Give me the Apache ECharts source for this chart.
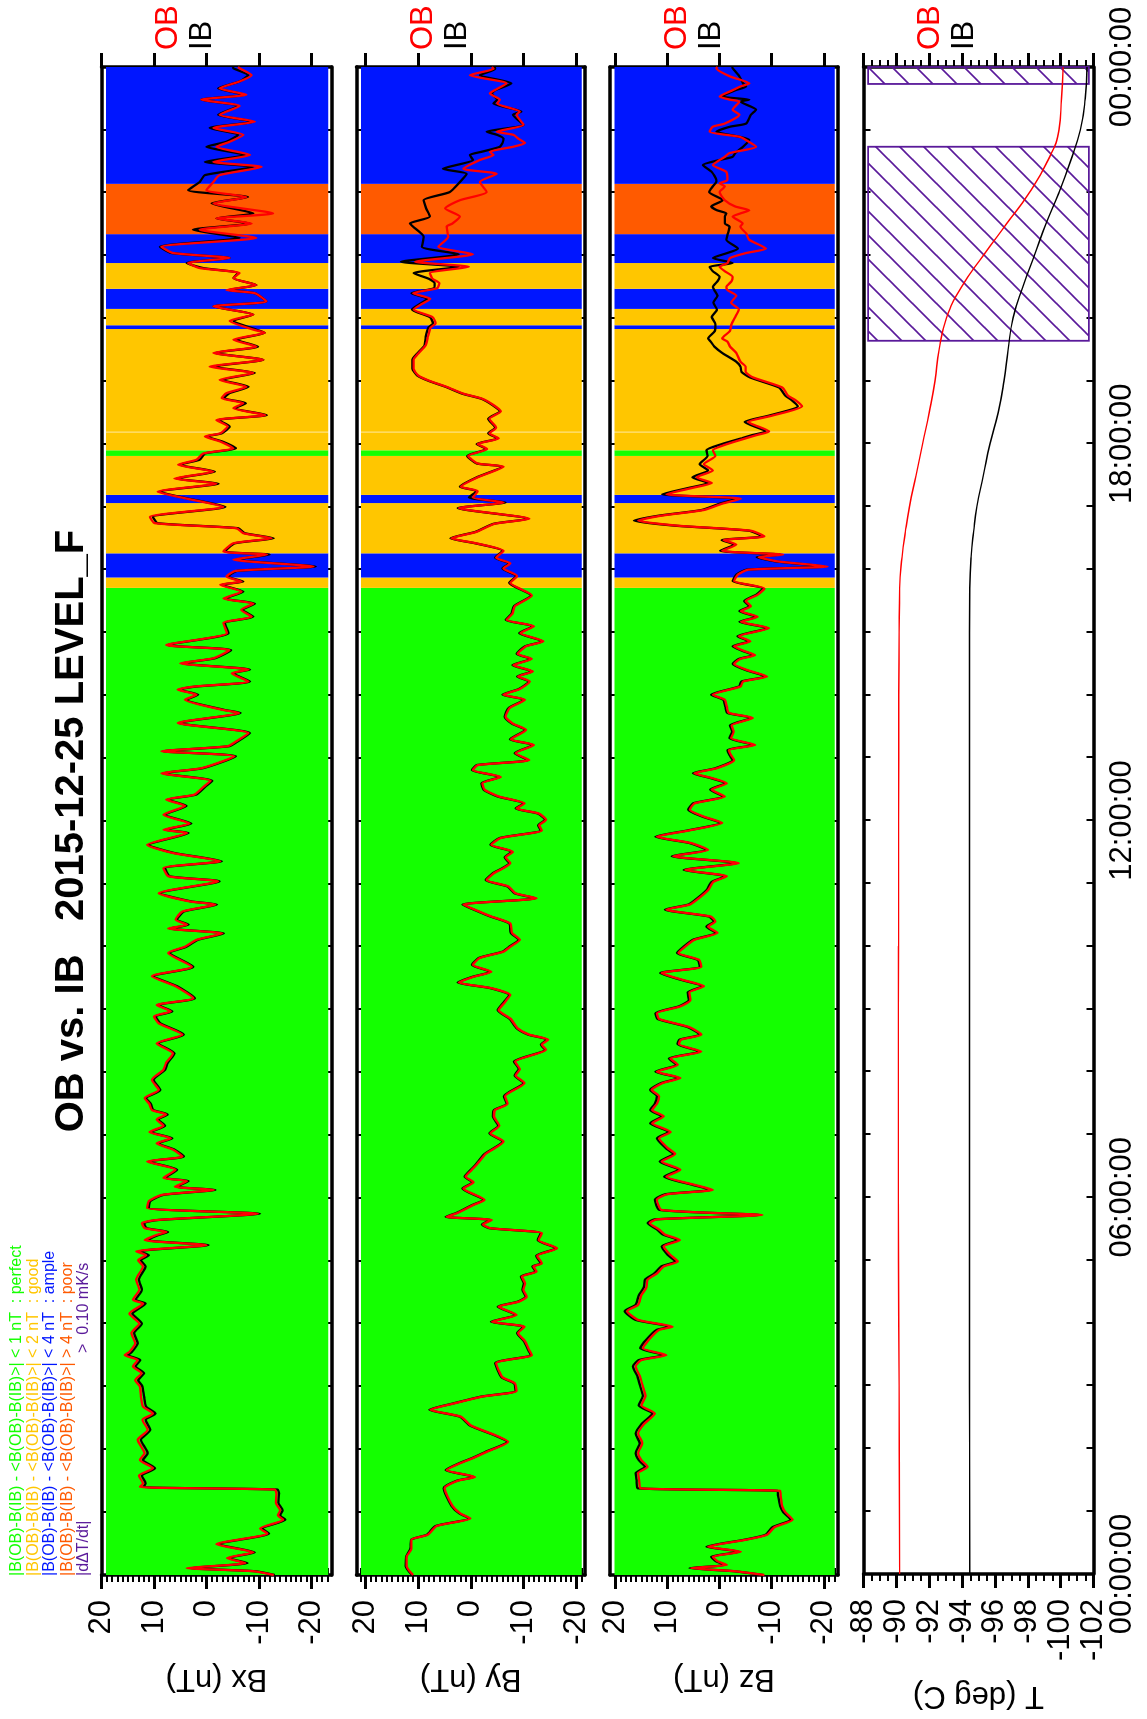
<!DOCTYPE html>
<html><head><meta charset="utf-8">
<script src="https://cdn.jsdelivr.net/npm/echarts@6/dist/echarts.min.js"></script>
<style>
html,body{margin:0;padding:0;background:#fff;}
#page{position:relative;width:1147px;height:1719px;overflow:hidden;background:#fff;}
#chart{position:absolute;left:0;top:0;width:1719px;height:1147px;transform-origin:0 0;transform:translateY(1719px) rotate(-90deg);}
</style></head><body>
<div id="page"><div id="chart"></div></div>
<script>
// ---------------- DATA ----------------
const titleText = 'OB vs. IB   2015-12-25 LEVEL_F';
const timeTickLabels = ['00:00:00','06:00:00','12:00:00','18:00:00','00:00:00'];
const bTickValues = [-20,-10,0,10,20];
const tTickStep = 2;   // T axis labels: -102 ... -88 every 2 deg C
const panelNames = ['Bx (nT)','By (nT)','Bz (nT)','T (deg C)'];
const legendLines = [
  '|B(OB)-B(IB) - <B(OB)-B(IB)>| < 1 nT  : perfect',
  '|B(OB)-B(IB) - <B(OB)-B(IB)>| < 2 nT  : good',
  '|B(OB)-B(IB) - <B(OB)-B(IB)>| < 4 nT  : ample',
  '|B(OB)-B(IB) - <B(OB)-B(IB)>| > 4 nT  : poor'
];
const legendLast = ['|d\u0394T/dt|', '>  0.10 mK/s'];

// quality bands (hours)
const bandStart = [0, 15.71, 15.875, 16.26, 17.06, 17.19, 17.81, 17.90, 18.195, 19.83, 19.89, 20.15, 20.47, 20.88, 21.34, 22.14];
const bandEnd   = [15.71, 15.875, 16.26, 17.06, 17.19, 17.81, 17.90, 18.185, 19.83, 19.89, 20.15, 20.47, 20.88, 21.34, 22.14, 24];
const bandQuality = ['perfect','good','ample','good','ample','good','perfect','good','good','ample','good','ample','good','ample','poor','ample'];
// |d dT/dt| > 0.10 mK/s periods (hours)
const hatchStart = [19.64, 23.73];
const hatchEnd   = [22.73, 24.0];

const bxT = [0.00,0.06,0.11,0.19,0.27,0.36,0.49,0.66,0.74,0.88,0.95,1.03,1.15,1.30,1.36,1.40,1.46,1.58,1.70,1.83,1.94,2.15,2.31,2.47,2.57,2.68,2.84,3.00,3.10,3.21,3.32,3.42,3.50,3.55,3.69,3.85,4.00,4.16,4.32,4.38,4.54,4.70,4.91,5.01,5.09,5.15,5.25,5.33,5.41,5.46,5.52,5.60,5.65,5.75,5.84,5.95,6.05,6.13,6.18,6.27,6.32,6.45,6.58,6.66,6.77,6.87,6.95,7.05,7.15,7.25,7.33,7.40,7.50,7.59,7.72,7.88,8.04,8.15,8.30,8.46,8.60,8.78,8.89,8.97,9.07,9.18,9.37,9.53,9.68,9.90,10.00,10.11,10.21,10.29,10.35,10.43,10.56,10.67,10.72,10.85,11.04,11.12,11.25,11.36,11.49,11.62,11.81,11.86,11.96,12.10,12.24,12.34,12.42,12.55,12.64,12.76,12.84,13.03,13.11,13.19,13.27,13.40,13.56,13.72,13.77,13.93,14.01,14.09,14.14,14.22,14.35,14.41,14.51,14.59,14.72,14.80,14.99,15.15,15.25,15.36,15.46,15.54,15.65,15.76,15.81,15.89,15.98,16.05,16.16,16.24,16.29,16.42,16.50,16.58,16.66,16.74,16.84,17.00,17.14,17.24,17.37,17.45,17.56,17.67,17.75,17.85,17.93,18.04,18.12,18.17,18.28,18.38,18.46,18.57,18.65,18.73,18.81,18.91,19.02,19.13,19.23,19.34,19.45,19.55,19.66,19.77,19.82,19.96,20.06,20.19,20.27,20.40,20.45,20.53,20.64,20.72,20.80,20.88,20.96,21.04,21.14,21.28,21.41,21.51,21.59,21.67,21.83,21.93,22.04,22.17,22.28,22.41,22.49,22.60,22.73,22.81,22.92,23.03,23.13,23.24,23.38,23.48,23.56,23.66,23.77,23.87,23.98,24.00];
const bxOB = [-12.8,-9.0,3.8,-7.4,-3.9,-8.9,-1.9,-11.6,-10.2,-14.6,-13.6,-14.0,-13.2,-13.3,-13.0,12.7,12.1,12.9,10.2,12.7,11.8,13.1,11.2,12.2,10.2,12.1,12.5,12.7,13.6,12.4,14.0,13.1,15.6,14.7,13.6,14.3,12.8,14.7,12.1,14.0,12.8,13.4,12.1,13.0,11.5,13.4,0.0,11.8,9.6,7.6,11.8,12.3,9.5,-9.8,11.3,11.0,8.5,-1.4,6.0,3.7,8.2,5.9,11.3,4.6,6.4,9.5,6.8,10.9,8.2,9.5,7.7,10.4,10.9,11.8,9.1,10.4,8.2,7.7,6.4,9.5,4.6,9.1,10.0,6.8,9.5,2.5,5.9,10.4,2.8,7.3,4.1,1.9,-3.0,7.3,3.7,5.9,4.6,-1.7,3.2,9.1,-2.2,7.3,8.2,-2.6,6.4,11.3,3.7,8.2,3.2,8.2,4.1,7.7,2.3,0.5,-0.8,8.6,1.0,-5.3,8.6,-4.0,-5.7,-8.0,5.5,-6.2,-3.0,4.1,1.9,5.5,2.3,-8.0,-4.8,-8.0,5.0,-1.3,-4.4,7.7,-3.9,-3.2,-8.6,-6.6,-8.9,-3.2,-6.7,-2.6,-6.7,-3.8,-5.5,-20.4,-5.1,-11.5,-3.2,-5.1,-12.4,-7.0,-5.7,9.9,10.8,-3.2,4.3,9.3,-1.9,6.1,-1.3,5.4,1.9,0.6,-5.1,-2.6,0.3,-2.6,-4.0,-1.9,-11.2,-5.1,-7.0,-2.9,-3.8,-7.6,-2.5,-8.9,-0.6,-10.8,-1.3,-9.5,-5.1,-11.1,-8.9,-4.4,-8.9,-1.3,-11.4,-9.2,-3.8,-9.5,-5.1,-6.3,1.3,3.5,-4.4,6.4,8.6,-9.5,1.3,-8.6,-1.9,-12.7,-1.3,-7.6,0.0,-1.3,-2.5,-10.5,-1.3,-8.3,-1.9,-4.4,-7.0,-1.3,-9.2,-2.5,-6.3,1.0,-7.6,-2.5,-6.3,-8.6,-6.3,-6.0];
const bxIB = [-13.0,-9.3,3.2,-7.8,-4.2,-9.2,-2.3,-11.9,-10.6,-15.0,-14.0,-14.5,-13.7,-13.8,-13.5,12.0,11.6,12.3,9.8,12.1,11.2,12.5,10.7,11.6,9.7,11.5,11.9,12.2,13.0,11.9,13.5,12.6,15.0,14.2,13.1,13.8,12.3,14.1,11.6,13.5,12.3,12.9,11.6,12.5,11.0,12.9,-0.4,11.3,9.2,7.3,11.4,11.9,9.2,-10.2,11.0,10.7,8.2,-1.7,5.7,3.4,7.9,5.6,11.0,4.3,6.1,9.2,6.5,10.6,7.9,9.2,7.4,10.1,10.6,11.5,8.8,10.1,7.9,7.4,6.1,9.2,4.3,8.8,9.7,6.5,9.2,2.2,5.6,10.1,2.5,7.0,3.8,1.6,-3.3,7.0,3.4,5.6,4.3,-2.0,2.9,8.8,-2.5,7.0,7.9,-2.9,6.1,11.0,3.4,7.9,2.9,7.9,3.8,7.4,2.0,0.2,-1.1,8.3,0.7,-5.6,8.3,-4.3,-6.0,-8.3,5.2,-6.5,-3.3,3.8,1.6,5.2,2.0,-8.3,-5.1,-8.3,4.7,-1.6,-4.7,7.4,-4.2,-3.5,-8.9,-6.9,-9.2,-3.5,-7.0,-2.9,-7.0,-4.1,-5.8,-20.8,-5.5,-12.0,-3.5,-5.4,-12.8,-7.3,-6.0,9.3,10.2,-3.6,4.0,8.9,-2.3,5.8,-1.6,5.1,1.3,0.3,-5.6,-3.0,0.0,-2.9,-4.4,-2.2,-11.5,-5.4,-7.5,-3.3,-4.4,-8.0,-3.0,-9.2,-1.3,-10.8,-1.6,-9.8,-5.7,-11.1,-9.5,-5.1,-8.9,-1.3,-11.4,-9.2,-4.1,-9.5,-5.1,-6.0,0.6,3.8,-4.4,6.7,8.9,-6.3,2.6,-8.3,-1.9,-8.9,-1.0,-7.9,3.5,1.3,0.3,-8.9,0.3,-7.3,0.0,-3.8,-6.0,-0.6,-8.9,-2.2,-6.0,1.0,-7.3,-2.2,-6.3,-7.9,-5.1,-5.0];

const byT = [0.00,0.14,0.29,0.42,0.56,0.64,0.78,0.90,0.98,1.10,1.38,1.50,1.56,1.67,1.78,1.86,1.96,2.12,2.22,2.38,2.52,2.63,2.73,2.84,2.93,3.05,3.15,3.37,3.50,3.58,3.72,3.85,3.95,4.03,4.14,4.27,4.35,4.43,4.54,4.64,4.75,4.83,4.91,4.96,5.08,5.20,5.33,5.44,5.52,5.58,5.65,5.70,5.76,5.89,5.97,6.15,6.25,6.34,6.45,6.55,6.70,6.90,7.03,7.15,7.30,7.40,7.50,7.62,7.83,7.95,8.05,8.17,8.36,8.44,8.52,8.60,8.70,8.85,8.99,9.12,9.23,9.34,9.43,9.52,9.60,9.71,9.82,9.92,10.00,10.11,10.22,10.37,10.48,10.57,10.67,10.77,10.85,10.96,11.06,11.17,11.25,11.33,11.42,11.51,11.62,11.73,11.85,11.93,12.02,12.12,12.20,12.28,12.39,12.50,12.60,12.70,12.81,12.89,12.97,13.08,13.21,13.30,13.45,13.55,13.66,13.80,13.93,14.01,14.10,14.22,14.30,14.38,14.48,14.58,14.66,14.78,14.86,14.99,15.10,15.20,15.30,15.42,15.59,15.79,15.90,16.02,16.10,16.19,16.30,16.42,16.50,16.60,16.73,16.81,16.98,17.07,17.15,17.25,17.32,17.47,17.64,17.69,17.81,17.92,18.00,18.09,18.17,18.26,18.40,18.52,18.62,18.72,18.80,18.91,19.00,19.09,19.20,19.34,19.45,19.57,19.70,19.85,19.92,20.02,20.14,20.22,20.31,20.40,20.48,20.56,20.63,20.72,20.82,20.90,21.02,21.14,21.30,21.46,21.51,21.62,21.75,21.88,22.01,22.17,22.30,22.38,22.52,22.60,22.65,22.73,22.79,22.86,22.92,22.97,23.08,23.24,23.29,23.42,23.48,23.58,23.63,23.74,23.87,23.97,24.00];
const byOB = [11.0,12.2,12.2,11.3,11.3,8.2,6.5,0.1,2.0,3.5,5.0,2.5,-0.8,4.6,2.0,-0.4,-3.0,-7.1,-4.8,0.0,1.9,7.7,3.2,-2.2,-8.7,-8.4,-6.0,-4.8,-11.6,-11.1,-10.3,-9.0,-10.2,-4.0,-8.7,-5.3,-9.1,-10.6,-10.0,-10.3,-9.7,-12.5,-11.9,-13.5,-12.6,-16.4,-12.9,-13.5,-3.7,-2.3,-4.0,4.6,2.6,-0.5,-2.6,1.4,-0.5,1.0,-0.2,-1.3,-2.8,-6.2,-3.7,-5.4,-4.4,-4.6,-7.0,-6.5,-10.2,-8.5,-9.3,-8.4,-14.3,-13.5,-14.7,-11.1,-8.9,-7.6,-5.3,-6.5,-7.5,-3.9,2.3,-0.5,-3.9,-0.4,-1.7,-6.2,-7.5,-9.3,-7.8,-7.5,-3.9,-1.3,1.4,-12.5,-8.5,-7.1,-3.0,-4.4,-6.2,-7.5,-6.6,-8.0,-3.9,-5.7,-13.5,-13.0,-14.3,-12.9,-8.7,-10.2,-5.3,-2.6,-2.2,-5.7,-0.4,-1.3,-11.1,-8.5,-12.0,-7.6,-10.5,-8.0,-6.6,-7.4,-10.3,-6.2,-9.3,-11.2,-9.0,-11.8,-8.1,-11.6,-8.9,-10.5,-13.8,-9.4,-12.0,-6.8,-7.9,-8.4,-11.6,-7.5,-8.8,-6.2,-7.5,-4.8,-6.2,-1.0,3.7,-1.0,-4.5,-11.1,2.3,-6.2,-0.4,-1.3,1.9,-1.3,-6.2,-1.3,0.5,-3.1,-1.3,-5.3,-3.5,-4.8,-3.5,-5.7,-4.3,-2.2,1.4,4.6,7.7,10.0,10.9,10.9,9.9,8.6,8.2,7.7,6.7,7.3,10.9,9.5,7.7,11.0,6.4,6.0,7.3,7.8,0.4,10.6,-0.4,6.2,4.3,4.6,3.5,2.1,4.9,2.1,-3.0,-1.7,-4.9,1.4,-1.7,-4.3,-3.6,-8.0,-10.3,-9.0,-8.1,-4.9,-10.0,-8.7,-9.3,-5.0,-5.5,-3.6,-4.5,-6.8,0.2,-4.3,-4.0];
const byIB = [11.2,12.4,12.3,11.5,11.4,8.4,6.7,0.3,2.2,3.7,5.2,2.7,-0.6,4.8,2.2,-0.2,-2.8,-6.9,-4.6,0.2,2.1,7.9,3.4,-2.0,-8.5,-8.2,-5.8,-4.6,-11.4,-10.9,-10.1,-8.8,-10.0,-3.8,-8.5,-5.1,-8.9,-10.4,-9.8,-10.1,-9.5,-12.3,-11.7,-13.3,-12.4,-16.2,-12.7,-13.3,-3.5,-2.1,-3.8,4.8,2.8,-0.3,-2.4,1.6,-0.3,1.2,0.0,-1.1,-2.6,-6.0,-3.5,-5.2,-4.2,-4.4,-6.8,-6.3,-10.0,-8.3,-9.1,-8.2,-14.1,-13.3,-14.5,-10.9,-8.7,-7.4,-5.1,-6.3,-7.3,-3.7,2.5,-0.3,-3.7,-0.2,-1.5,-6.0,-7.3,-9.1,-7.6,-7.3,-3.7,-1.1,1.6,-12.3,-8.3,-6.9,-2.8,-4.2,-6.0,-7.3,-6.4,-7.8,-3.7,-5.5,-13.3,-12.8,-14.1,-12.7,-8.5,-10.0,-5.1,-2.4,-2.0,-5.5,-0.2,-1.1,-10.9,-8.3,-11.8,-7.4,-10.3,-7.8,-6.4,-7.2,-10.1,-6.0,-9.1,-11.0,-8.8,-11.6,-7.9,-11.4,-8.7,-10.3,-13.6,-9.2,-11.8,-6.6,-7.7,-8.2,-11.4,-7.3,-8.6,-6.0,-7.3,-4.6,-6.0,-0.8,3.9,-0.8,-4.3,-10.9,2.5,-6.6,0.4,-1.1,2.1,-1.1,-6.0,-1.1,0.7,-2.9,-1.1,-5.1,-3.3,-4.6,-3.3,-5.5,-4.1,-2.0,1.6,4.8,7.9,10.2,11.1,11.1,10.1,8.8,8.6,8.1,7.2,7.8,11.2,9.9,8.3,11.3,7.0,6.9,8.0,10.9,2.3,13.3,2.3,9.3,9.0,11.0,11.6,7.8,8.5,9.0,4.0,2.1,0.8,5.3,-0.4,0.2,-2.0,-5.5,-6.0,-6.2,-5.0,-3.0,-10.0,-8.0,-9.6,-4.3,-5.0,-4.0,-4.6,-7.7,-1.7,-4.6,-4.5];

const bzT = [0.00,0.06,0.11,0.16,0.22,0.29,0.37,0.45,0.56,0.64,0.76,0.88,1.00,1.10,1.27,1.34,1.38,1.50,1.62,1.72,1.83,1.94,2.10,2.25,2.40,2.57,2.70,2.85,3.00,3.15,3.32,3.42,3.50,3.61,3.75,3.90,3.95,4.06,4.20,4.30,4.45,4.58,4.70,4.80,4.91,4.99,5.10,5.23,5.33,5.42,5.50,5.60,5.66,5.73,5.81,5.97,6.06,6.13,6.21,6.34,6.45,6.58,6.70,6.80,6.95,7.05,7.19,7.30,7.40,7.50,7.62,7.72,7.83,7.91,8.01,8.12,8.22,8.33,8.45,8.52,8.60,8.72,8.85,8.94,9.05,9.15,9.27,9.37,9.47,9.58,9.68,9.79,9.90,10.00,10.11,10.22,10.32,10.40,10.48,10.59,10.67,10.77,10.90,11.03,11.12,11.22,11.33,11.44,11.54,11.65,11.75,11.85,11.97,12.07,12.18,12.28,12.39,12.50,12.60,12.68,12.76,12.84,12.97,13.05,13.13,13.21,13.32,13.42,13.52,13.64,13.72,13.82,13.93,14.01,14.14,14.22,14.30,14.40,14.50,14.58,14.64,14.71,14.78,14.86,14.94,15.07,15.17,15.25,15.34,15.42,15.50,15.60,15.70,15.82,15.92,16.00,16.05,16.13,16.20,16.24,16.30,16.40,16.47,16.53,16.62,16.70,16.78,16.86,16.95,17.05,17.13,17.20,17.30,17.38,17.47,17.58,17.68,17.81,17.90,18.00,18.09,18.14,18.20,18.35,18.45,18.60,18.70,18.77,18.90,19.06,19.15,19.23,19.31,19.45,19.55,19.63,19.68,19.80,19.91,20.02,20.14,20.25,20.36,20.45,20.50,20.59,20.66,20.75,20.82,20.88,20.96,21.04,21.11,21.25,21.35,21.46,21.51,21.62,21.67,21.72,21.78,21.88,22.01,22.10,22.15,22.20,22.33,22.44,22.52,22.57,22.63,22.73,22.84,22.89,22.97,23.05,23.10,23.24,23.32,23.45,23.48,23.53,23.63,23.69,23.74,23.85,23.98,24.00];
const bzOB = [-8.6,-3.0,5.5,-1.4,0.4,1.3,-4.1,2.2,-5.0,-9.1,-10.5,-14.0,-12.6,-12.0,-11.7,-11.6,15.2,15.4,15.6,13.8,15.0,15.6,14.8,15.6,14.5,12.4,15.0,14.2,14.7,15.2,16.1,15.0,10.2,14.7,13.5,11.6,9.0,15.6,17.7,15.6,15.0,14.0,13.8,12.0,10.7,8.0,9.5,10.7,7.6,10.5,11.6,13.4,12.0,-8.2,11.1,12.0,10.0,1.3,4.8,10.2,7.5,11.1,8.5,10.0,11.6,9.4,12.9,10.7,12.9,12.0,11.6,13.0,10.9,7.5,12.0,8.0,9.4,3.5,7.8,7.4,3.5,5.8,11.6,12.0,7.5,5.6,5.8,3.0,7.0,11.1,3.5,3.9,7.9,6.6,4.8,0.4,2.2,0.8,1.7,10.2,5.7,4.0,2.2,1.2,-1.4,6.6,-3.7,8.9,2.2,5.5,12.0,5.8,-0.5,3.0,5.7,4.8,-1.0,1.5,-1.4,1.3,4.8,0.5,-2.8,-2.2,-1.8,-6.8,-2.2,-2.7,-2.3,-6.4,-1.8,-1.4,-1.0,1.3,-4.0,-4.5,-9.1,-5.4,-2.8,-4.0,-6.8,-4.6,-2.8,-5.9,-3.7,-9.5,-4.1,-7.3,-4.1,-6.0,-5.0,-7.3,-8.6,-2.8,-3.5,-5.5,-20.7,-11.3,-7.5,-12.2,-0.5,-3.2,-0.8,-8.6,-6.0,8.0,15.6,11.1,3.0,-0.5,-4.1,10.2,5.3,1.5,4.4,1.3,3.0,0.8,1.3,-1.5,-5.0,-7.0,-9.5,-5.5,-10.0,-15.8,-14.5,-13.1,-12.0,-6.4,-5.0,-5.0,-4.0,-3.2,-2.0,-1.5,-0.5,-2.0,-2.3,-3.0,-3.7,-2.2,-3.2,-1.5,-1.3,-2.3,-2.5,-1.0,0.0,-1.5,-2.0,-5.1,-8.9,-5.7,-5.1,-4.0,-4.4,-2.5,-4.0,-5.7,-3.0,-1.0,0.0,-1.0,0.0,-1.5,-1.3,1.3,0.0,-1.0,-1.9,-7.0,-5.0,-3.8,1.9,1.3,-1.0,-3.8,-2.5,-3.8,-2.0,0.0,-2.5,-4.0,-5.7,-2.0,0.6,0.4];
const bzIB = [-8.4,-2.8,5.8,-1.1,0.7,1.6,-3.8,2.5,-4.7,-8.8,-10.1,-13.6,-12.2,-11.6,-11.2,-11.1,15.7,15.9,16.1,14.3,15.5,16.1,15.3,16.1,15.0,12.9,15.5,14.7,15.2,15.7,16.6,15.5,10.7,15.2,14.0,12.1,9.5,16.1,18.2,16.1,15.5,14.5,14.3,12.5,11.2,8.5,10.0,11.1,8.0,10.9,12.0,13.8,12.4,-7.8,11.5,12.4,10.4,1.7,5.2,10.6,7.9,11.5,8.9,10.4,12.0,9.8,13.3,11.1,13.3,12.4,12.0,13.3,11.2,7.8,12.3,8.3,9.7,3.8,8.1,7.7,3.8,6.1,11.9,12.3,7.8,5.9,6.1,3.3,7.3,11.4,3.8,4.2,8.2,6.9,5.1,0.7,2.5,1.1,2.0,10.5,6.0,4.3,2.5,1.5,-1.1,6.9,-3.3,9.2,2.5,5.8,12.3,6.1,-0.2,3.3,6.0,5.1,-0.7,1.8,-1.1,1.6,5.1,0.8,-2.5,-1.9,-1.5,-6.5,-1.9,-2.4,-2.0,-6.1,-1.5,-1.1,-0.7,1.6,-3.7,-4.2,-8.8,-5.1,-2.5,-3.7,-6.5,-4.3,-2.5,-5.6,-3.4,-9.2,-3.8,-7.0,-3.8,-5.7,-4.7,-7.0,-8.3,-2.5,-3.2,-5.2,-20.2,-10.9,-7.1,-11.7,-0.1,-2.8,-0.4,-8.2,-5.6,8.5,16.4,11.6,3.4,0.0,-3.4,11.0,6.0,2.2,5.2,2.2,3.8,2.3,2.5,-0.5,-4.2,-6.2,-8.8,-4.8,-9.4,-15.0,-13.8,-12.6,-11.4,-5.8,-4.2,-4.0,-3.2,-0.5,1.0,1.7,2.2,0.9,0.8,1.5,0.5,1.2,0.4,1.0,1.3,0.4,0.0,1.3,1.9,-2.5,1.3,-1.5,-3.5,-1.3,-1.6,-1.9,-1.0,-1.0,-1.3,0.5,1.6,-0.6,2.0,1.3,0.8,0.6,1.5,3.2,0.0,-2.5,-3.0,-4.5,-5.7,-3.8,0.6,-2.0,-5.1,-6.0,-7.0,-4.0,-5.7,-0.6,-3.0,-5.1,-4.5,-3.8,-2.5,-2.4];

const tempT  = [0, 2, 4, 6, 8, 10, 12, 14, 15, 15.7, 16.2, 16.6, 17.0, 17.5, 18.0, 18.5, 19.0, 19.5, 20.0, 20.5, 21.0, 21.5, 22.0, 22.5, 23.0, 23.5, 24.0];
const tempOB = [-90.2,-90.18,-90.15,-90.12,-90.12,-90.13,-90.14,-90.15,-90.17,-90.2,-90.35,-90.55,-90.8,-91.2,-91.6,-92.0,-92.35,-92.6,-93.05,-93.97,-95.3,-96.7,-98.1,-99.2,-99.9,-100.05,-100.15];
const tempIB = [-94.47,-94.46,-94.45,-94.45,-94.45,-94.45,-94.45,-94.45,-94.45,-94.47,-94.55,-94.7,-94.9,-95.3,-95.7,-96.2,-96.55,-96.8,-97.1,-97.7,-98.4,-99.1,-99.9,-100.6,-101.2,-101.5,-101.6];

// ---------------- STYLE / LAYOUT ----------------
const FONT = '"Liberation Sans", Arial, Helvetica, sans-serif';
const qualityColor = {perfect:'#14ff00', good:'#ffc600', ample:'#0016ff', poor:'#ff5a00'};
const hatchColor = '#5a1a9a';
const legendColors = ['#14ff00','#ffc600','#0016ff','#ff5a00','#5a1a9a'];
const GRID_LEFT = 144, GRID_RIGHT = 67;
const panelTop = [101.5, 356.5, 610, 863.5];
const panelHeight = [230, 228.5, 228, 230];
const axisRange = [[-23.8, 20], [-21.7, 21.75], [-22.7, 21.0], [-102, -88]];

function minorList(lo, hi, step, majors) {
  const out = [];
  for (let v = Math.ceil(lo / step) * step; v <= hi + 1e-9; v += step) {
    const r = Math.round(v * 100) / 100;
    if (majors.indexOf(r) < 0 && r > lo && r < hi) out.push(r);
  }
  return out;
}

// hatch pattern
const hatch = document.createElement('canvas');
hatch.width = 24; hatch.height = 24;
(function () {
  const g = hatch.getContext('2d');
  g.strokeStyle = hatchColor; g.lineWidth = 1.6;
  for (const k of [0, 24, 48]) { g.beginPath(); g.moveTo(k - 26, 26); g.lineTo(k + 2, -2); g.stroke(); }
})();

const panels = [
  {t: bxT, ob: bxOB, ib: bxIB},
  {t: byT, ob: byOB, ib: byIB},
  {t: bzT, ob: bzOB, ib: bzIB},
  {t: tempT, ob: tempOB, ib: tempIB}
];

const grid = [], xAxis = [], yAxis = [], series = [];
for (let i = 0; i < 4; i++) {
  const [mn, mx] = axisRange[i];
  const isT = i === 3;
  grid.push({left: GRID_LEFT, right: GRID_RIGHT, top: panelTop[i], height: panelHeight[i]});
  for (const pos of ['bottom', 'top']) {
    const showLab = isT && pos === 'bottom';
    xAxis.push({
      type: 'value', gridIndex: i, position: pos, min: 0, max: 24, interval: 1,
      axisLine: {show: true, onZero: false, lineStyle: {color: '#000', width: 3.5}},
      axisTick: {show: true, inside: true, length: 7, lineStyle: {color: '#000', width: 2}},
      splitLine: {show: false},
      axisLabel: {show: showLab, margin: 13, fontSize: 31, color: '#000', fontFamily: FONT,
        formatter: v => (v % 6 === 0 ? timeTickLabels[v / 6] : '')}
    });
  }
  const base = {type: 'value', gridIndex: i, min: mn, max: mx, splitLine: {show: false}};
  const lineSt = {show: true, onZero: false, lineStyle: {color: '#000', width: 3.5}};
  const majorTickSt = {length: 14, lineStyle: {color: '#000', width: 3}};
  const nameOpt = {name: panelNames[i], nameLocation: 'middle', nameRotate: 90, nameGap: isT ? 106 : 88,
    nameTextStyle: {fontSize: 31, color: '#000', fontFamily: FONT}};
  const labelSt = {show: true, fontSize: 31, color: '#000', fontFamily: FONT, margin: 25};
  if (isT) {
    // min -102 is a multiple of the interval 2: ticks -102, -100, ..., -88
    const minor = {show: true, splitNumber: 4, length: 7, lineStyle: {color: '#000', width: 2}};
    yAxis.push(Object.assign({}, base, nameOpt, {position: 'left', interval: tTickStep, axisLine: lineSt,
      axisTick: Object.assign({show: true}, majorTickSt), minorTick: minor, axisLabel: labelSt}));
    yAxis.push(Object.assign({}, base, {position: 'left', show: false}));
    yAxis.push(Object.assign({}, base, {position: 'right', interval: tTickStep, axisLine: lineSt,
      axisTick: Object.assign({show: true}, majorTickSt), minorTick: minor, axisLabel: {show: false}}));
    yAxis.push(Object.assign({}, base, {position: 'right', show: false}));
  } else {
    const minors = minorList(mn, mx, 1, bTickValues);
    const minorTick = {show: true, customValues: minors, length: 7, lineStyle: {color: '#000', width: 2}};
    yAxis.push(Object.assign({}, base, nameOpt, {position: 'left', axisLine: lineSt,
      axisTick: Object.assign({show: true, customValues: bTickValues}, majorTickSt),
      axisLabel: Object.assign({customValues: bTickValues}, labelSt)}));
    yAxis.push(Object.assign({}, base, {position: 'left', axisLine: {show: false}, axisTick: minorTick, axisLabel: {show: false}}));
    yAxis.push(Object.assign({}, base, {position: 'right', axisLine: lineSt,
      axisTick: Object.assign({show: true, customValues: bTickValues}, majorTickSt), axisLabel: {show: false}}));
    yAxis.push(Object.assign({}, base, {position: 'right', axisLine: {show: false}, axisTick: minorTick, axisLabel: {show: false}}));
  }

  // background bands / hatch
  let areas;
  if (!isT) {
    areas = bandStart.map((s, k) => [
      {xAxis: s, yAxis: mx - 0.85, itemStyle: {color: qualityColor[bandQuality[k]], borderWidth: 0}},
      {xAxis: bandEnd[k], yAxis: mn + 0.6}
    ]);
  } else {
    areas = hatchStart.map((s, k) => [
      {xAxis: s, yAxis: mx - 0.28, itemStyle: {color: {image: hatch, repeat: 'repeat'}, borderColor: hatchColor, borderWidth: 1.8}},
      {xAxis: hatchEnd[k], yAxis: mn + 0.28}
    ]);
  }
  series.push({type: 'line', xAxisIndex: 2 * i, yAxisIndex: 4 * i, data: [], z: 1, silent: true,
    markArea: {silent: true, label: {show: false}, data: areas}});
  const p = panels[i];
  const lw = isT ? 1.4 : 2.3;
  series.push({type: 'line', name: 'IB', xAxisIndex: 2 * i, yAxisIndex: 4 * i, z: 2, silent: true,
    data: p.t.map((x, k) => [x, p.ib[k]]), symbol: 'none', smooth: isT ? 0.5 : 0.2,
    lineStyle: {color: '#000', width: lw}});
  series.push({type: 'line', name: 'OB', xAxisIndex: 2 * i, yAxisIndex: 4 * i, z: 3, silent: true,
    data: p.t.map((x, k) => [x, p.ob[k]]), symbol: 'none', smooth: isT ? 0.5 : 0.2,
    lineStyle: {color: '#ff0000', width: lw}});
}

const graphic = [];
graphic.push({type: 'text', x: 888, y: 72, style: {text: titleText, font: 'bold 40px ' + FONT, fill: '#000',
  textAlign: 'center', textVerticalAlign: 'middle', align: 'center', verticalAlign: 'middle'}});
const legendY = [16.7, 33.3, 50, 67.5, 84];
legendLines.forEach((s, k) => graphic.push({type: 'text', x: 143, y: legendY[k],
  style: {text: s, font: '16px ' + FONT, fill: legendColors[k], textAlign: 'left', textVerticalAlign: 'middle', align: 'left', verticalAlign: 'middle'}}));
graphic.push({type: 'text', x: 143, y: legendY[4], style: {text: legendLast[0], font: '16px ' + FONT, fill: legendColors[4],
  textAlign: 'left', textVerticalAlign: 'middle', align: 'left', verticalAlign: 'middle'}});
graphic.push({type: 'text', x: 366, y: legendY[4], style: {text: legendLast[1], font: '16px ' + FONT, fill: legendColors[4],
  textAlign: 'left', textVerticalAlign: 'middle', align: 'left', verticalAlign: 'middle'}});
for (let i = 0; i < 4; i++) {
  graphic.push({type: 'text', x: 1669, y: panelTop[i] + 67, style: {text: 'OB', font: '31px ' + FONT, fill: '#ff0000',
    textAlign: 'left', textVerticalAlign: 'middle', align: 'left', verticalAlign: 'middle'}});
  graphic.push({type: 'text', x: 1669, y: panelTop[i] + 101, style: {text: 'IB', font: '31px ' + FONT, fill: '#000',
    textAlign: 'left', textVerticalAlign: 'middle', align: 'left', verticalAlign: 'middle'}});
}

const chart = echarts.init(document.getElementById('chart'), null, {renderer: 'canvas', devicePixelRatio: 1});
chart.setOption({
  animation: false,
  backgroundColor: '#fff',
  grid, xAxis, yAxis, series, graphic
});
</script></body></html>
